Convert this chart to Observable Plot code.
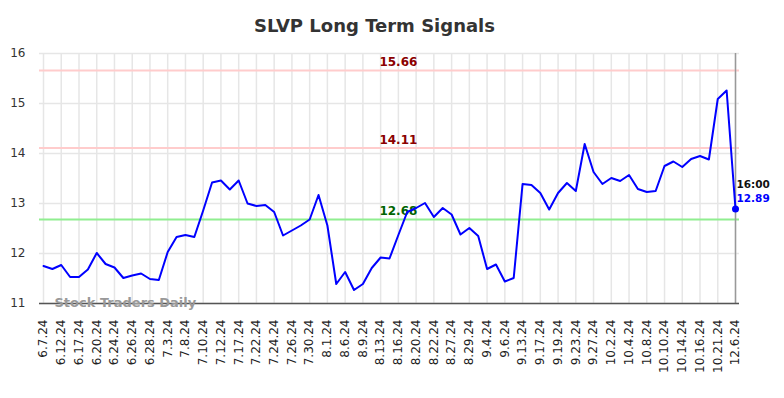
<!DOCTYPE html>
<html>
<head>
<meta charset="utf-8">
<script src="https://cdn.jsdelivr.net/npm/d3@7"></script>
<script src="https://cdn.jsdelivr.net/npm/@observablehq/plot@0.6"></script>
<style>
  html, body { margin: 0; padding: 0; background: #fff; }
  #wrap { position: relative; width: 784px; height: 398px; font-family: "DejaVu Sans", sans-serif; }
  #title { position: absolute; left: 0; top: 14px; width: 749px; text-align: center; font-size: 18px; font-weight: bold; color: #333; line-height: 24px; }
  #chart { position: absolute; left: 0; top: 0; }
</style>
</head>
<body>
<div id="wrap">
  <div id="chart"></div>
  <div id="title">SLVP Long Term Signals</div>
</div>
<script>
const tickLabels = ["6.7.24","6.12.24","6.17.24","6.20.24","6.24.24","6.26.24","6.28.24","7.3.24","7.8.24","7.10.24","7.12.24","7.17.24","7.22.24","7.24.24","7.26.24","7.30.24","8.1.24","8.6.24","8.9.24","8.13.24","8.16.24","8.20.24","8.22.24","8.27.24","8.29.24","9.4.24","9.6.24","9.13.24","9.17.24","9.19.24","9.23.24","9.27.24","10.2.24","10.4.24","10.8.24","10.10.24","10.14.24","10.16.24","10.21.24","12.6.24"];

const prices = [11.75,11.69,11.77,11.53,11.53,11.68,12.01,11.79,11.72,11.51,
  11.56,11.60,11.49,11.47,12.03,12.33,12.37,12.33,12.86,13.42,
  13.46,13.28,13.46,13.00,12.95,12.97,12.83,12.36,12.46,12.56,
  12.68,13.17,12.56,11.39,11.63,11.27,11.39,11.71,11.92,11.90,
  12.37,12.83,12.91,13.01,12.73,12.91,12.78,12.38,12.51,12.35,
  11.69,11.78,11.44,11.51,13.39,13.37,13.21,12.88,13.21,13.41,
  13.25,14.19,13.63,13.39,13.51,13.45,13.57,13.29,13.23,13.25,
  13.75,13.84,13.73,13.89,13.95,13.88,15.09,15.26,12.89];

const resistanceLevels = [15.66, 14.11];
const supportLevels = [12.68];
const yTicks = [11, 12, 13, 14, 15, 16];
const lastTime = "16:00";

const data = prices.map((v, i) => ({i, v}));
const lastIndex = prices.length - 1;
const last = data[lastIndex];
const tickIdx = tickLabels.map((_, k) => k * 2);
const labelIndex = 40;

const chart = Plot.plot({
  width: 784,
  height: 398,
  marginTop: 53,
  marginBottom: 95,
  marginLeft: 39,
  marginRight: 45,
  style: {fontFamily: "DejaVu Sans, sans-serif", background: "transparent"},
  x: {type: "linear", domain: [0, lastIndex], insetLeft: 4, insetRight: 4},
  y: {domain: [11, 16]},
  marks: [
    Plot.gridY(yTicks, {stroke: "#e6e6e6", strokeOpacity: 1, strokeWidth: 1.5}),
    Plot.gridX(tickIdx, {stroke: "#e6e6e6", strokeOpacity: 1, strokeWidth: 1.5}),
    Plot.ruleY(resistanceLevels, {stroke: "#ffcccc", strokeWidth: 2}),
    Plot.ruleY(supportLevels, {stroke: "#90ee90", strokeWidth: 2}),
    Plot.text(resistanceLevels, {x: () => labelIndex, y: d => d, text: d => d.toFixed(2), fill: "#8b0000", fontWeight: "bold", fontSize: 12, dy: -8, textAnchor: "middle"}),
    Plot.text(supportLevels, {x: () => labelIndex, y: d => d, text: d => d.toFixed(2), fill: "#006400", fontWeight: "bold", fontSize: 12, dy: -8, textAnchor: "middle"}),
    Plot.ruleX([lastIndex], {stroke: "#999", strokeWidth: 1.5}),
    Plot.ruleY([11], {stroke: "#555", strokeWidth: 1.5}),
    Plot.text(["Stock Traders Daily"], {x: () => 0, y: () => 11, text: d => d, frameAnchor: "left", textAnchor: "start", dx: 11, dy: -1, fill: "#999", fillOpacity: 1, fontWeight: "bold", fontSize: 13}),
    Plot.line(data, {x: "i", y: "v", stroke: "#0000ff", strokeWidth: 2}),
    Plot.dot([last], {x: "i", y: "v", r: 3.5, fill: "#0000ff"}),
    Plot.text([last], {x: "i", y: "v", text: () => lastTime, textAnchor: "start", dx: 1, dy: -24, fill: "#111", fontWeight: "bold", fontSize: 10.5}),
    Plot.text([last], {x: "i", y: "v", text: d => d.v.toFixed(2), textAnchor: "start", dx: 1, dy: -10, fill: "#0000ff", fontWeight: "bold", fontSize: 10.5}),
    Plot.axisY(yTicks, {tickSize: 0, tickPadding: 14, fontSize: 12, fill: "#333", tickFormat: d => d, label: null}),
    Plot.axisX(tickIdx, {tickSize: 0, tickPadding: 16, tickRotate: -90, fontSize: 12, fill: "#222", tickFormat: i => tickLabels[i / 2], label: null})
  ]
});
document.getElementById("chart").appendChild(chart);
</script>
</body>
</html>
